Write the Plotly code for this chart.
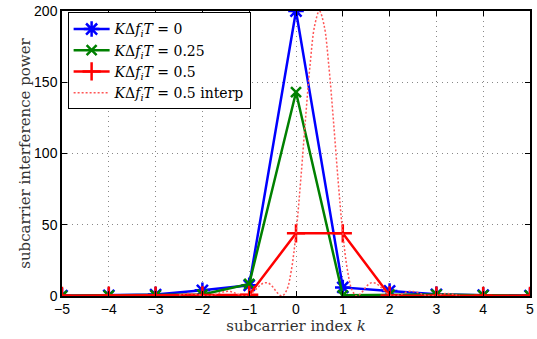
import plotly.graph_objects as go

k = [-5, -4, -3, -2, -1, 0, 1, 2, 3, 4, 5]
p_0 = [0.2, 0.5, 1.0, 4.0, 7.5, 200, 6.0, 3.5, 1.2, 0.6, 0.3]
p_025 = [0.1, 0.3, 0.5, 1.0, 8.5, 143, 0.5, 1.0, 1.0, 0.5, 0.2]
p_05 = [0.1, 0.2, 0.3, 0.4, 0.8, 44, 44, 0.4, 0.2, 0.1, 0.1]

k_interp = [round(-2.5 + 0.1 * i, 1) for i in range(61)]
p_interp = [0.7, 1.3, 1.7, 1.5, 1.0, 0.3, 0, 0.4, 1.3, 2.5,
            3.2, 3.1, 2.0, 0.7, 0, 0.8, 3.3, 6.5, 9.0, 9.2,
            6.5, 2.3, 0, 4, 18, 44, 81, 123, 162, 190,
            200,
            190, 162, 123, 81, 44, 18, 4, 0, 2.3, 6.5,
            9.2, 9.0, 6.5, 3.3, 0.8, 0, 0.7, 2.0, 3.1, 3.2,
            2.5, 1.3, 0.3, 0, 0.4, 1.3, 1.7, 1.5, 1.0, 0.3]

serif = "DejaVu Serif, Liberation Serif, serif"
sans = "Liberation Sans, Arial, sans-serif"
lab = "<i>K</i>Δ<i>f<sub>i</sub>T</i>&nbsp;= "

fig = go.Figure()
fig.add_trace(go.Scatter(x=k, y=p_0, mode="lines+markers", name=lab + "0",
                         line=dict(color="#0000ff", width=2.5),
                         marker=dict(symbol="asterisk-open", size=13,
                                     line=dict(color="#0000ff", width=2.5))))
fig.add_trace(go.Scatter(x=k, y=p_025, mode="lines+markers", name=lab + "0.25",
                         line=dict(color="#008000", width=2.5),
                         marker=dict(symbol="x-thin-open", size=10,
                                     line=dict(color="#008000", width=2.5))))
fig.add_trace(go.Scatter(x=k, y=p_05, mode="lines+markers", name=lab + "0.5",
                         line=dict(color="#ff0000", width=2.5),
                         marker=dict(symbol="cross-thin-open", size=13,
                                     line=dict(color="#ff0000", width=2.5))))
fig.add_trace(go.Scatter(x=k_interp, y=p_interp, mode="lines", name=lab + "0.5 interp",
                         line=dict(color="#ff5555", width=1.5, dash="2px,2px", shape="spline")))

axis_common = dict(showline=True, linecolor="black", linewidth=1.5, mirror="ticks",
                   ticks="inside", ticklen=5, tickcolor="black", automargin=False,
                   showgrid=True, gridcolor="#888888", griddash="1px,4px", gridwidth=1,
                   zeroline=False, tickfont=dict(family=sans, size=14, color="black"))

fig.update_xaxes(range=[-5, 5], tickmode="array", tickvals=k, ticklabelstandoff=-1,
                 ticklabeloverflow="allow",
                 title=dict(text="subcarrier index <i>k</i>", font=dict(family=serif, size=15, color="#333"),
                            standoff=4), **axis_common)
fig.update_yaxes(range=[0, 200], tickvals=[0, 50, 100, 150, 200], ticklabeloverflow="allow",
                 title=dict(text="subcarrier interference power", font=dict(family=serif, size=15, color="#333"),
                            standoff=0), **axis_common)

fig.update_layout(width=537, height=339, margin=dict(l=62, r=7, t=11, b=43),
                  paper_bgcolor="white", plot_bgcolor="white", showlegend=True,
                  legend=dict(x=0.012, y=0.995, xanchor="left", yanchor="top",
                              bgcolor="white", bordercolor="black", borderwidth=1,
                              font=dict(family=serif, size=14, color="black"),
                              tracegroupgap=0, itemwidth=36))

fig.write_html("out.html", config={"displayModeBar": False},
               post_script="document.body.style.margin='0px';document.body.style.overflow='hidden';")
